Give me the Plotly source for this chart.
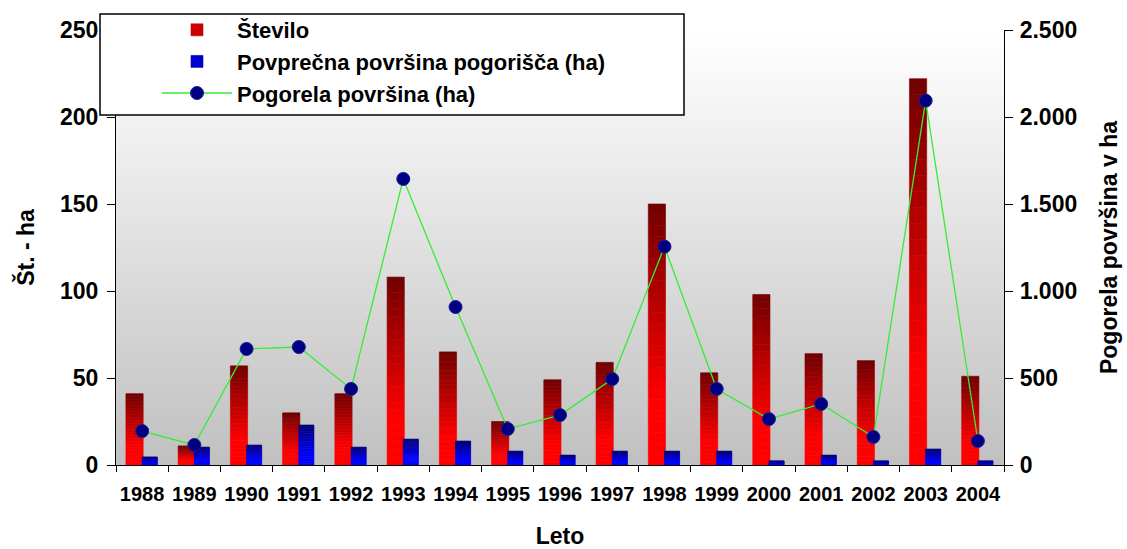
import plotly.graph_objects as go

years = [str(y) for y in range(1988, 2005)]
stevilo = [41, 11, 57, 30, 41, 108, 65, 25, 49, 59, 150, 53, 98, 64, 60, 222, 51]
povprecna = [4.6, 10.3, 11.5, 23.0, 10.3, 14.9, 13.8, 8.0, 5.7, 8.0, 8.0, 8.0, 2.3, 5.7, 2.3, 9.2, 2.3]
pogorela = [195, 115, 667, 678, 437, 1644, 908, 207, 287, 494, 1255, 437, 264, 351, 161, 2094, 138]

name_st = "Število"
name_pov = "Povprečna površina pogorišča (ha)"
name_pog = "Pogorela površina (ha)"

FONT = "Liberation Sans, Arial, sans-serif"
NSEG = 24

def red_col(t):
    f = 0 if t < 0.25 else (t - 0.25) / 0.75
    r = int(round(255 - (255 - 112) * f))
    return f"rgb({r},0,0)"

def blue_col(t):
    f = 0 if t < 0.25 else (t - 0.25) / 0.75
    b = int(round(255 - (255 - 120) * f))
    return f"rgb(0,0,{b})"

fig = go.Figure()

# gradient bars built from stacked segments of each value
for series, colfn, width, offset, name, legend_k in [
    (stevilo, red_col, 0.33, -0.31, name_st, NSEG // 2),
    (povprecna, blue_col, 0.29, 0.0, name_pov, NSEG // 2),
]:
    for k in range(NSEG):
        t = (k + 0.5) / NSEG
        c = colfn(t)
        fig.add_trace(go.Bar(
            x=years,
            y=[v / NSEG for v in series],
            base=[v * k / NSEG for v in series],
            width=width, offset=offset,
            marker=dict(color=c, line=dict(color=c, width=0.6)),
            name=name, legendgroup=name,
            showlegend=(k == legend_k),
            hoverinfo="skip" if k != legend_k else None,
            yaxis="y",
        ))

fig.add_trace(go.Scatter(
    x=years, y=pogorela, yaxis="y2", name=name_pog,
    mode="lines+markers",
    line=dict(color="#33ee33", width=1.3),
    marker=dict(size=13, color="#000080", line=dict(color="#1a1a9a", width=1)),
))

# plot-area background gradient (white top -> gray bottom)
NBG = 80
shapes = []
for i in range(NBG):
    t = i / NBG
    g = int(round(192 + (255 - 192) * (t + 0.5 / NBG)))
    shapes.append(dict(type="rect", xref="paper", yref="paper",
                       x0=0, x1=1, y0=t, y1=t + 1.0 / NBG + 0.002,
                       fillcolor=f"rgb({g},{g},{g})", line=dict(width=0),
                       layer="below"))

# legend box
PW, PH = 888.0, 435.0
shapes.append(dict(type="rect", xref="paper", yref="paper",
                   x0=(100 - 116) / PW, x1=(684 - 116) / PW,
                   y0=(465 - 115) / PH, y1=(465 - 14) / PH,
                   fillcolor="white", line=dict(color="black", width=1.5),
                   layer="above"))

tickfont_y = dict(family=FONT, size=23, color="black", weight="bold")
tickfont_x = dict(family=FONT, size=20, color="black", weight="bold")
titlefont = dict(family=FONT, size=23, color="black", weight="bold")

fig.update_layout(
    width=1127, height=549,
    margin=dict(l=116, r=123, t=30, b=84, autoexpand=False),
    paper_bgcolor="white",
    plot_bgcolor="rgba(0,0,0,0)",
    barmode="overlay",
    separators=",.",
    showlegend=True,
    shapes=shapes,
    legend=dict(
        xref="paper", yref="paper",
        x=(157 - 116) / PW, y=(465 - 9) / PH, xanchor="left", yanchor="top",
        bgcolor="rgba(0,0,0,0)", borderwidth=0,
        itemwidth=70,
        font=dict(family=FONT, size=22, color="black", weight="bold"),
        traceorder="normal",
    ),
    xaxis=dict(
        type="category", categoryorder="array", categoryarray=years,
        range=[-0.5, 16.5],
        showline=True, linecolor="black", linewidth=1.2,
        ticks="outside", ticklen=6, tickcolor="black", tickwidth=1.2,
        tickson="boundaries", tickangle=0,
        showgrid=False, zeroline=False,
        tickfont=tickfont_x, ticklabelstandoff=11,
        title=dict(text="Leto", font=titlefont, standoff=40),
    ),
    yaxis=dict(
        range=[0, 250], dtick=50, tick0=0,
        showline=True, linecolor="black", linewidth=1.2,
        ticks="outside", ticklen=8, tickcolor="black", tickwidth=1.2,
        showgrid=False, zeroline=False,
        tickfont=tickfont_y, ticklabelstandoff=4,
        title=dict(text="Št. - ha", font=titlefont, standoff=18),
    ),
    yaxis2=dict(
        overlaying="y", side="right", anchor="x",
        range=[0, 2500], dtick=500, tick0=0, tickformat=",d",
        showline=True, linecolor="black", linewidth=1.2,
        ticks="outside", ticklen=8, tickcolor="black", tickwidth=1.2,
        showgrid=False, zeroline=False,
        tickfont=tickfont_y, ticklabelstandoff=2,
        title=dict(text="Pogorela površina v ha", font=titlefont, standoff=24),
    ),
    # inner halves of the crossing tick marks
    xaxis3=dict(
        overlaying="x", anchor="y", type="linear",
        range=[-0.5, 16.5], tickmode="linear", tick0=-0.5, dtick=1,
        ticks="inside", ticklen=6, tickcolor="black", tickwidth=1.2,
        showticklabels=False, showgrid=False, zeroline=False, showline=False,
    ),
    yaxis3=dict(
        overlaying="y", anchor="x", side="left",
        range=[0, 250], tickmode="linear", tick0=0, dtick=50,
        ticks="inside", ticklen=8, tickcolor="black", tickwidth=1.2,
        showticklabels=False, showgrid=False, zeroline=False, showline=False,
    ),
    yaxis4=dict(
        overlaying="y", anchor="x", side="right",
        range=[0, 2500], tickmode="linear", tick0=0, dtick=500,
        ticks="inside", ticklen=8, tickcolor="black", tickwidth=1.2,
        showticklabels=False, showgrid=False, zeroline=False, showline=False,
    ),
)

fig.write_html(
    "out.html",
    config={"displayModeBar": False},
    post_script="document.body.style.margin='0';document.body.style.overflow='hidden';",
)
